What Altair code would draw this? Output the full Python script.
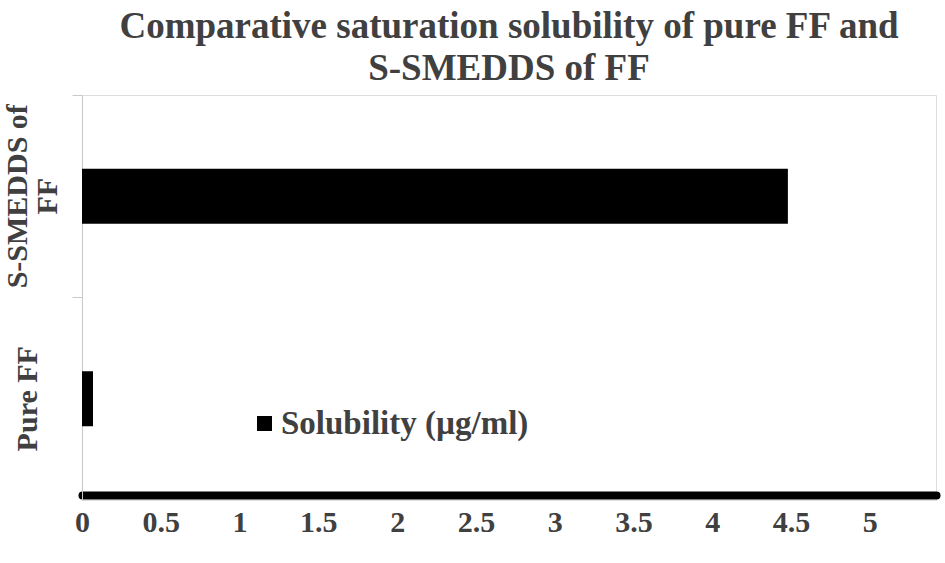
import altair as alt
import pandas as pd

categories = ["S-SMEDDS of\nFF", "Pure FF"]
solubility = [4.48, 0.07]
series_name = ["Solubility (µg/ml)", "Solubility (µg/ml)"]
x_ticks = [0, 0.5, 1, 1.5, 2, 2.5, 3, 3.5, 4, 4.5, 5]

df = pd.DataFrame({"category": categories, "value": solubility, "series": series_name})

FONT = "Liberation Serif"
GRAY = "#404040"

chart = alt.Chart(df).mark_bar(size=55, color="black").encode(
    y=alt.Y("category:N", sort=categories, title=None,
            scale=alt.Scale(paddingInner=0, paddingOuter=0),
            axis=alt.Axis(labelAngle=270, labelExpr="split(datum.label, '\\n')",
                          labelFont=FONT, labelFontWeight="bold", labelFontSize=30,
                          labelColor=GRAY, labelBaseline="middle", labelAlign="center",
                          labelPadding={"condition": {"test": "datum.value == 'Pure FF'", "value": 45},
                                        "value": 55},
                          labelLineHeight=30, labelLimit=300,
                          domainColor="#c8c8c8", tickColor="#c8c8c8", tickSize=10,
                          bandPosition=0, grid=False)),
    x=alt.X("value:Q", title=None,
            scale=alt.Scale(domain=[0, 5.42], nice=False, zero=True),
            axis=alt.Axis(values=x_ticks, format="~g", ticks=False, grid=False,
                          domainColor="black", domainWidth=8, domainCap="round",
                          offset=-5, labelPadding=12,
                          labelFont=FONT, labelFontWeight="bold", labelFontSize=30,
                          labelColor=GRAY, labelFlush=False)),
    color=alt.Color("series:N", scale=alt.Scale(range=["black"]), title=None,
                    legend=alt.Legend(orient="none", legendX=166, legendY=312,
                                      symbolType="square", symbolSize=225,
                                      symbolStrokeWidth=0, labelFont=FONT,
                                      labelFontWeight="bold", labelFontSize=33,
                                      labelColor=GRAY, labelOffset=0, padding=0,
                                      labelLimit=400)),
).properties(
    width=854,
    height=405,
    title=alt.TitleParams(
        text=["Comparative saturation solubility of pure FF and", "S-SMEDDS of FF"],
        font=FONT, fontWeight="bold", fontSize=37, color=GRAY,
        anchor="middle", lineHeight=42, offset=7),
    autosize=alt.AutoSizeParams(type="none"),
    padding={"left": 82, "top": 95, "right": 9, "bottom": 63},
).configure_view(stroke=None).configure(background="white")

chart.save("out.html", embed_options={"renderer": "svg", "actions": False})
